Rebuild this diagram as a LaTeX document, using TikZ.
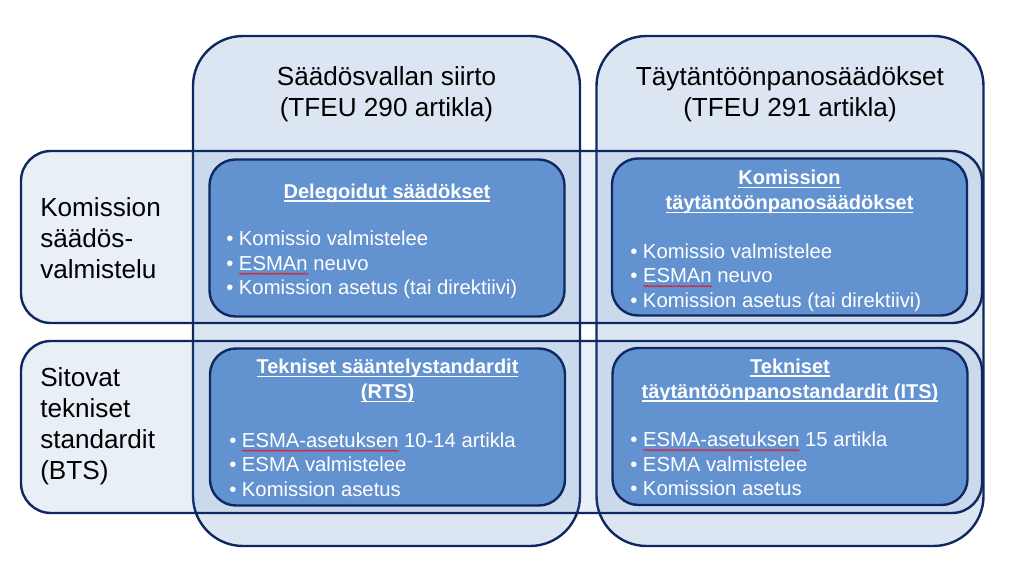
\documentclass[tikz,border=0pt]{standalone}
\usepackage{fontspec}
\setmainfont{Liberation Sans}
\usepackage{tikz}
\usetikzlibrary{decorations.pathmorphing}
\definecolor{navy}{RGB}{16,40,96}
\definecolor{office}{RGB}{79,129,189}
\definecolor{inblue}{RGB}{99,146,208}
\newdimen\spw
\def\tline#1{\setbox0\hbox{#1}\rlap{\rule[-2.6pt]{\wd0}{1.1pt}}\box0\relax}
\def\spell#1{\setbox0\hbox{#1}\spw=\wd0\relax\rlap{\raisebox{-2.6pt}{\tikz[baseline=0pt]\draw[red,line width=0.45pt,decorate,decoration={snake,amplitude=0.55pt,segment length=2.2pt}] (0pt,0pt) -- (\spw,0pt);}}\box0\relax}

\begin{document}
\begin{tikzpicture}[x=0.75pt,y=-0.75pt,
    colbox/.style={draw=navy,line width=1.8pt,fill=office,fill opacity=0.2,rounded corners=37.5pt,minimum width=290.25pt,minimum height=382.5pt},
    rowbox/.style={draw=navy,line width=1.8pt,fill=office,fill opacity=0.125,rounded corners=22.5pt,minimum width=720.75pt,minimum height=129pt},
    inbox/.style={draw=navy,line width=1.8pt,fill=inblue,rounded corners=19.5pt,minimum width=266.25pt,minimum height=117.75pt},
    head/.style={align=center,inner sep=0pt,font=\fontsize{19.6}{23.25}\selectfont},
    side/.style={anchor=west,align=left,inner sep=0pt,font=\fontsize{19.6}{23.25}\selectfont},
    ttl/.style={align=center,inner sep=0pt,text=white,font=\bfseries\fontsize{15}{18.75}\selectfont},
    items/.style={anchor=west,align=left,inner sep=0pt,text=white,font=\fontsize{15.2}{18.4}\selectfont}]
    \useasboundingbox (0,0) rectangle (1024,585);
    \node[colbox] (col1) at (386.5,291) {};
    \node[colbox] (col2) at (790,291) {};
    \node[rowbox] (row1) at (501.5,237) {};
    \node[rowbox] (row2) at (501.5,427) {};
    \node[inbox] (del) at (387,238) {};
    \node[inbox] (kts) at (789.5,237) {};
    \node[inbox] (rts) at (387.5,427) {};
    \node[inbox] (its) at (790,426.5) {};
    \node[head] (h1) at (386.5,94) {Säädösvallan siirto\\(TFEU 290 artikla)};
    \node[head] (h2) at (790,94) {Täytäntöönpanosäädökset\\(TFEU 291 artikla)};
    \node[side] (s1) at (40,238) {Komission\\säädös-\\valmistelu};
    \node[side] (s2) at (40,426.5) {Sitovat\\tekniset\\standardit\\(BTS)};
    \node[ttl] (t1) at (387,193) {\tline{Delegoidut säädökset}};
    \node[ttl] (t2) at (789.5,192) {\tline{Komission}\\\tline{täytäntöönpanosäädökset}};
    \node[ttl] (t3) at (387.5,381) {\tline{Tekniset sääntelystandardit}\\\tline{(RTS)}};
    \node[ttl] (t4) at (790,380.5) {\tline{Tekniset}\\\tline{täytäntöönpanostandardit (ITS)}};
    \node[items] (b1) at (226,265) {• Komissio valmistelee\\• \spell{ESMAn} neuvo\\• Komission asetus (tai direktiivi)};
    \node[items] (b2) at (630,277.5) {• Komissio valmistelee\\• \spell{ESMAn} neuvo\\• Komission asetus (tai direktiivi)};
    \node[items] (b3) at (229,464.5) {• \spell{ESMA-asetuksen} 10-14 artikla\\• ESMA valmistelee\\• Komission asetus};
    \node[items] (b4) at (630,464) {• \spell{ESMA-asetuksen} 15 artikla\\• ESMA valmistelee\\• Komission asetus};
\end{tikzpicture}
\end{document}
